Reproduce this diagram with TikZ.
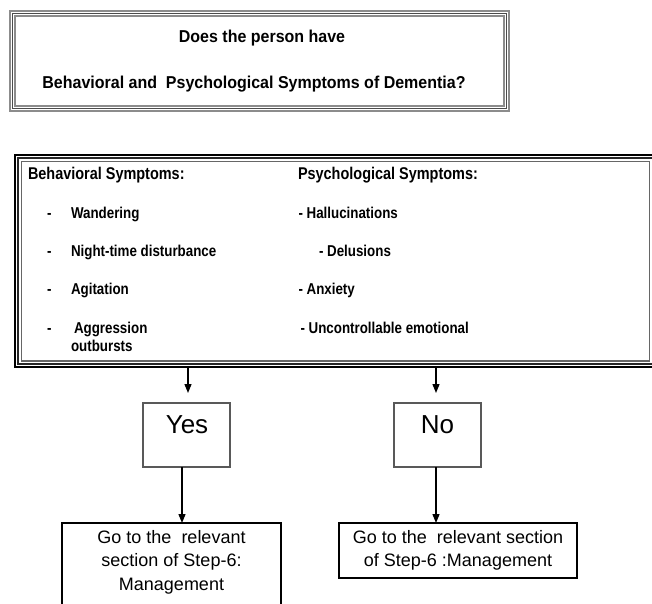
\documentclass[tikz,border=0pt]{standalone}
\usepackage{fontspec}
\setmainfont{Liberation Sans}
\newfontfamily\titlefont[FakeStretch=0.93]{Liberation Sans}
\newfontfamily\listfont[FakeStretch=0.85]{Liberation Sans}
\usetikzlibrary{arrows.meta,calc}

\begin{document}
\begin{tikzpicture}[x=1pt,y=-1pt,
  every node/.style={inner sep=0pt,outer sep=0pt},
  conn/.style={line width=1.3pt,-{Triangle[length=9pt,width=7pt]}},
  txt/.style={anchor=base west,font=\listfont\bfseries\fontsize{15.7}{18}\selectfont},
  head/.style={anchor=base west,font=\listfont\bfseries\fontsize{17}{20}\selectfont},
  qtext/.style={anchor=base,font=\titlefont\bfseries\fontsize{17.2}{20}\selectfont},
  ansbox/.style={draw=black!65,line width=1.4pt,minimum width=87pt,minimum height=64pt},
  ans/.style={anchor=base,font=\fontsize{26}{30}\selectfont},
  gobox/.style={draw=black,line width=2pt},
  gotext/.style={align=center,font=\fontsize{18}{23.5}\selectfont},
]
\useasboundingbox (0,0) rectangle (652,603);
\clip (0,0) rectangle (652,603);
\fill[white] (0,0) rectangle (652,603);

% question box with a triple grey frame
\node[draw=black!45,line width=1.6pt,minimum width=499pt,minimum height=100pt] (title) at (259.5,61) {};
\draw[black!70,line width=1.1pt] ($(title.north west)+(2.6,2.6)$) rectangle ($(title.south east)+(-2.6,-2.6)$);
\draw[black!45,line width=1.1pt] ($(title.north west)+(5,5)$) rectangle ($(title.south east)+(-5,-5)$);
\node[qtext] (q1) at (262,42) {Does the person have};
\node[qtext] (q2) at (254,88) {Behavioral and\ \ Psychological Symptoms of Dementia?};

% symptom box with a triple frame
\node[draw=black,line width=2pt,minimum width=655pt,minimum height=212pt] (symout) at (342.5,261) {};
\draw[black!85,line width=1.2pt] ($(symout.north west)+(3,3)$) rectangle ($(symout.south east)+(-3,-3)$);
\node[draw=black!60,line width=1.5pt,minimum width=628pt,minimum height=199.5pt] (sym) at (335.5,261.25) {};

\node[head] (bh) at (28,179) {Behavioral Symptoms:};
\node[head] (ph) at (298,179) {Psychological Symptoms:};

\node[txt] (d1) at (47,218) {-};
\node[txt] (d2) at (47,256) {-};
\node[txt] (d3) at (47,294) {-};
\node[txt] (d4) at (47,333) {-};
\node[txt] (b1) at (71,218) {Wandering};
\node[txt] (b2) at (71,256) {Night-time disturbance};
\node[txt] (b3) at (71,294) {Agitation};
\node[txt] (b4) at (74,333) {Aggression};
\node[txt] (b5) at (71,351) {outbursts};

\node[txt] (p1) at (298.5,218) {- Hallucinations};
\node[txt] (p2) at (319,256) {- Delusions};
\node[txt] (p3) at (298.5,294) {- Anxiety};
\node[txt] (p4) at (300.5,333) {- Uncontrollable emotional};

% answers
\node[ansbox] (yes) at (186.5,435) {};
\node[ansbox] (no) at (437.5,435) {};
\node[ans] (yeslbl) at ($(yes.north)+(0.5,30)$) {Yes};
\node[ans] (nolbl) at ($(no.north)+(0,30)$) {No};

% where to go next
\node[gobox,minimum width=219pt,minimum height=100pt,anchor=north] (gol) at (171.5,523) {};
\node[gotext,anchor=north] (goltxt) at ($(gol.north)+(0,7)$) {Go to the\ \ relevant\\section of Step-6:\\Management};
\node[gobox,gotext,minimum width=238pt,minimum height=55pt] (gor) at (458,550.5) {Go to the\ \ relevant section\\of Step-6 :Management};

% connectors
\coordinate (yestip) at ($(yes.north)+(1.5,-10)$);
\coordinate (notip) at ($(no.north)+(-1.5,-10)$);
\draw[conn] (symout.south -| yestip) -- (yestip);
\draw[conn] (symout.south -| notip) -- (notip);
\coordinate (yesfoot) at ($(yes.south)+(-4.5,0)$);
\coordinate (nofoot) at ($(no.south)+(-1.5,0)$);
\draw[conn] (yesfoot) -- (yesfoot |- gol.north);
\draw[conn] (nofoot) -- (nofoot |- gor.north);
\end{tikzpicture}
\end{document}
